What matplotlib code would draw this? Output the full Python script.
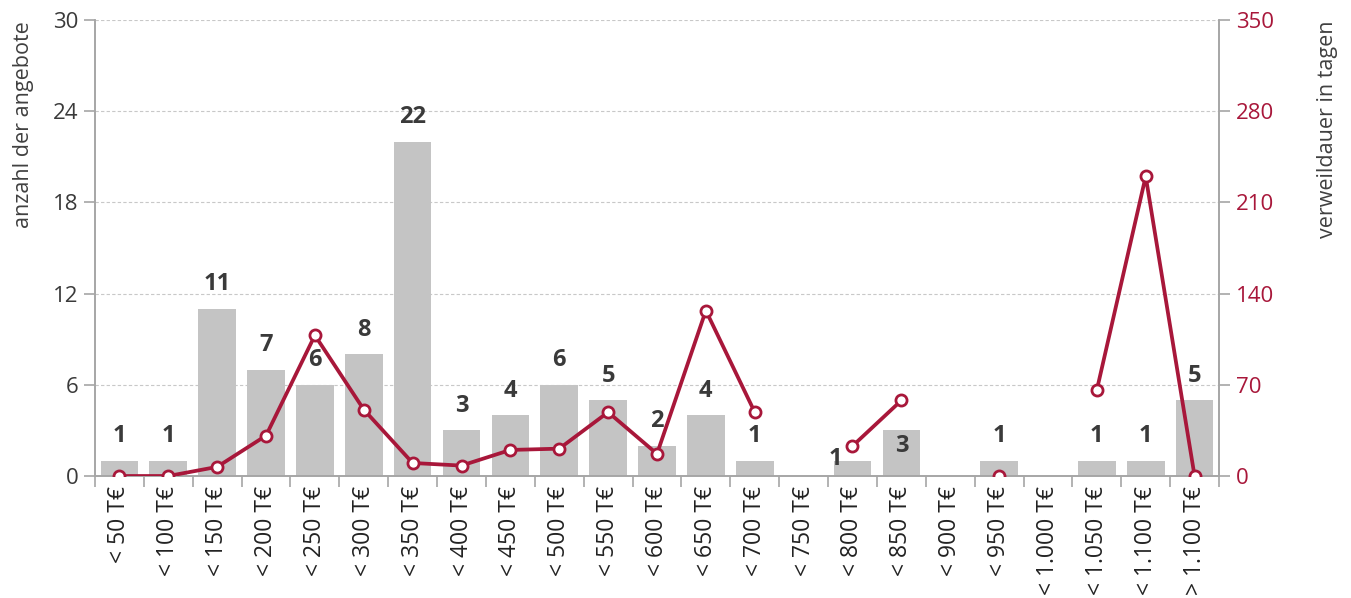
import numpy as np
import matplotlib.pyplot as plt

plt.rcParams['font.family'] = ['Open Sans', 'DejaVu Sans']

# categories (price classes)
categories = ['< 50 T€', '< 100 T€', '< 150 T€', '< 200 T€', '< 250 T€', '< 300 T€',
              '< 350 T€', '< 400 T€', '< 450 T€', '< 500 T€', '< 550 T€', '< 600 T€',
              '< 650 T€', '< 700 T€', '< 750 T€', '< 800 T€', '< 850 T€', '< 900 T€',
              '< 950 T€', '< 1.000 T€', '< 1.050 T€', '< 1.100 T€', '> 1.100 T€']

# number of offers (left axis)
anzahl = [1, 1, 11, 7, 6, 8, 22, 3, 4, 6, 5, 2, 4, 1, 0, 1, 3, 0, 1, 0, 1, 1, 5]

# days on market (right axis), nan = no value
nan = np.nan
verweildauer = [0, 0, 7, 31, 108, 51, 10, 8, 20, 21, 49, 17, 127, 49, nan,
                23, 58, nan, 0, nan, 66, 230, 0]

bar_color = '#c4c4c4'
line_color = '#a8173a'
text_color = '#3a3a3a'
axis_color = '#a6a6a6'

fig = plt.figure(figsize=(13.51, 5.98), dpi=100)
ax = fig.add_axes([0.0703, 0.204, 0.8320, 0.7626])
ax2 = ax.twinx()

x = np.arange(len(categories))

# bars
ax.bar(x, anzahl, width=0.77, color=bar_color, zorder=2)
ax.set_xlim(-0.5, len(categories) - 0.5)
ax.set_ylim(0, 30)
ax.set_yticks([0, 6, 12, 18, 24, 30])
ax.yaxis.grid(True, linestyle=(0, (3, 2)), color='#c8c8c8', linewidth=0.8, zorder=0)
ax.set_axisbelow(True)

# value labels above bars
for i, v in enumerate(anzahl):
    if v == 0:
        continue
    xi, yi = i, v + 1.6
    if categories[i] == '< 800 T€':
        xi, yi = i - 0.35, v + 0.1
    elif categories[i] == '< 850 T€':
        xi, yi = i, v - 1.0
    ax.text(xi, yi, str(v), ha='center', va='center', fontsize=17,
            fontweight='bold', color=text_color, zorder=5)

# x axis: ticks between categories, labels rotated
ax.set_xticks(np.arange(-0.5, len(categories)), minor=False)
ax.set_xticklabels([])
ax.set_xticks(x, minor=True)
ax.set_xticklabels(categories, minor=True, rotation=90, va='top', ha='center',
                   fontsize=16.5, color='#222222')
ax.tick_params(axis='x', which='minor', length=0, pad=7)
ax.tick_params(axis='x', which='major', length=8, color=axis_color, width=1.2)

ax.tick_params(axis='y', length=8, color=axis_color, width=1.2, labelsize=16,
               labelcolor=text_color, pad=4)
ax.set_ylabel('anzahl der angebote', fontsize=15.5, color='#404040')
ax.yaxis.set_label_coords(-0.054, 0.77)

# line on the right axis
ax2.plot(x, verweildauer, color=line_color, linewidth=2.7, marker='o',
         markersize=8, markerfacecolor='white', markeredgecolor=line_color,
         markeredgewidth=2, zorder=4)
ax2.set_ylim(0, 350)
ax2.set_yticks([0, 70, 140, 210, 280, 350])
ax2.tick_params(axis='y', length=8, color=axis_color, width=1.2, labelsize=16,
                labelcolor=line_color, pad=4)
ax2.set_ylabel('verweildauer in tagen', fontsize=15.5, color='#404040')
ax2.yaxis.set_label_coords(1.087, 0.76)

for a in (ax, ax2):
    a.spines['top'].set_visible(False)
    for s in ('left', 'right', 'bottom'):
        a.spines[s].set_color(axis_color)
        a.spines[s].set_linewidth(1.2)

fig.savefig('out.png', dpi=100)
